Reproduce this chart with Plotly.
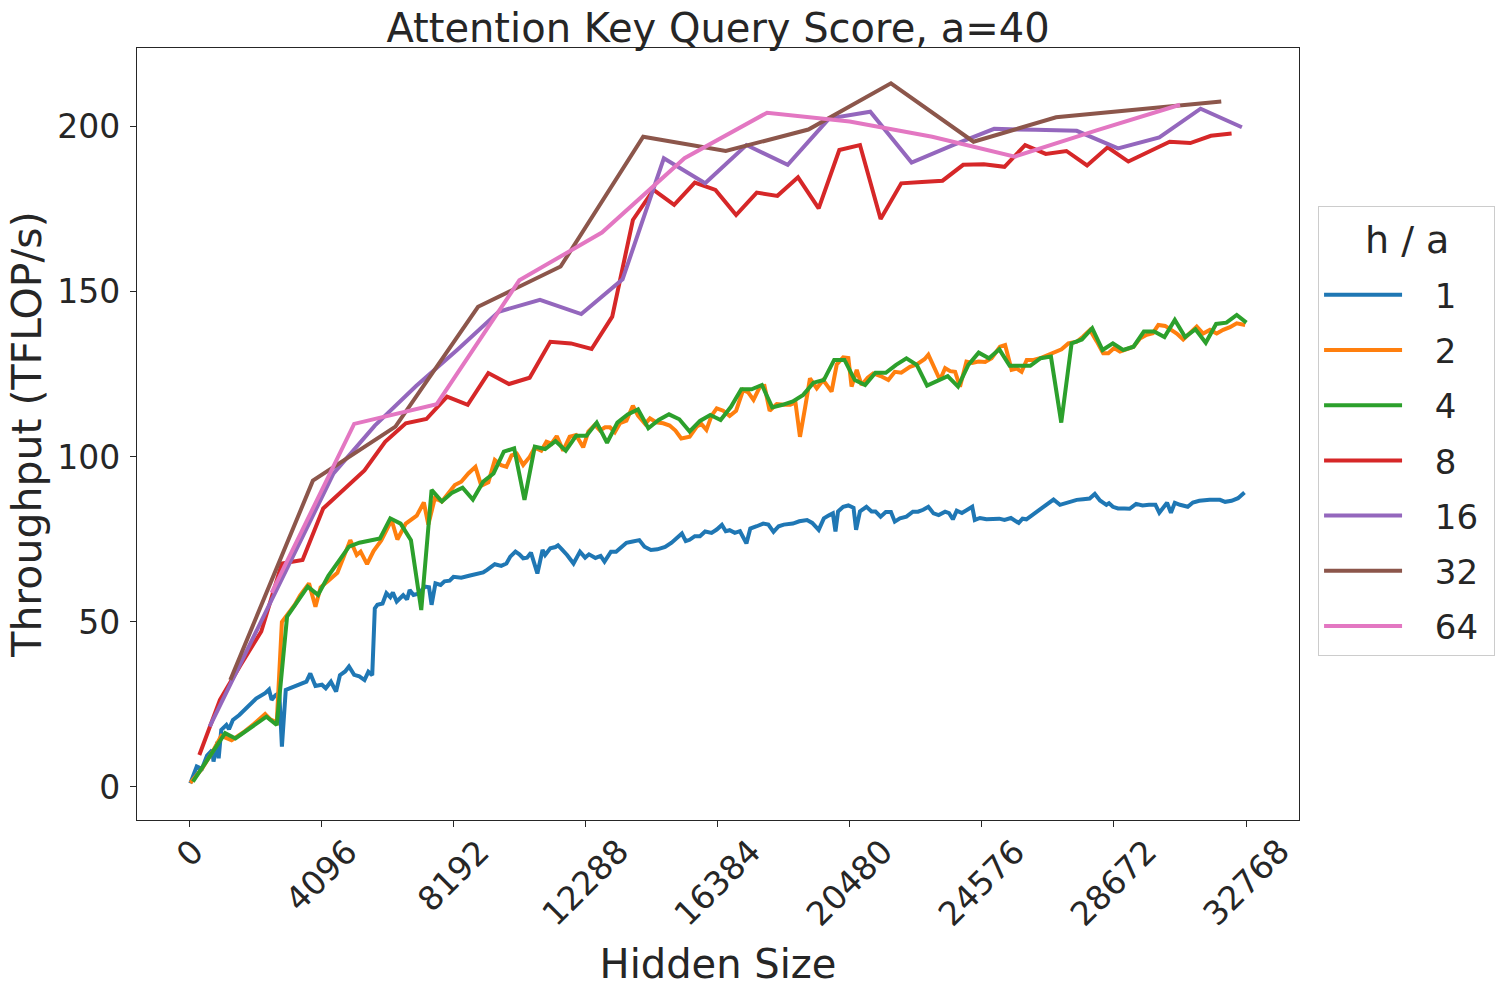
import plotly.graph_objects as go

# ---------------- data ----------------
series_names = ["1", "2", "4", "8", "16", "32", "64"]
series_colors = ["#1f77b4", "#ff7f0e", "#2ca02c", "#d62728", "#9467bd", "#8c564b", "#e377c2"]

hidden_ha1 = [40, 240, 400, 560, 720, 760, 880, 920, 1000, 1160, 1240, 1360, 1560, 1840, 2080, 2360, 2480, 2560, 2680, 2800,
              2880, 3000, 3160, 3320, 3480, 3640, 3760, 3920, 4120, 4240, 4400, 4560, 4680, 4840, 4960, 5120, 5280, 5440, 5560, 5680,
              5760, 5840, 6000, 6120, 6240, 6320, 6440, 6640, 6760, 6840, 6960, 7080, 7200, 7320, 7440, 7520, 7640, 7800, 7920, 8080,
              8200, 8320, 8440, 8680, 8960, 9120, 9240, 9400, 9480, 9680, 9840, 9960, 10120, 10240, 10360, 10480, 10600, 10800, 10960, 11040,
              11200, 11360, 11440, 11560, 11720, 11920, 12120, 12280, 12400, 12600, 12760, 12880, 13080, 13240, 13400, 13560, 13720, 13960, 14120, 14320,
              14520, 14760, 14960, 15120, 15280, 15400, 15520, 15680, 15840, 16000, 16200, 16360, 16520, 16640, 16760, 16920, 17080, 17280, 17400, 17600,
              17800, 17960, 18120, 18280, 18440, 18720, 18920, 19160, 19320, 19520, 19680, 19840, 19960, 20040, 20120, 20280, 20440, 20600, 20680, 20800,
              21000, 21160, 21280, 21440, 21600, 21760, 21880, 22040, 22240, 22440, 22600, 22760, 22920, 23080, 23240, 23440, 23560, 23680, 23800, 23960,
              24120, 24280, 24360, 24520, 24720, 24920, 25120, 25280, 25480, 25720, 25840, 25960, 26160, 26360, 26600, 26800, 27000, 27240, 27520, 27720,
              27920, 28080, 28240, 28440, 28520, 28640, 28800, 29000, 29160, 29360, 29560, 29760, 29960, 30080, 30320, 30440, 30560, 30720, 30960, 31120,
              31320, 31640, 31960, 32120, 32320, 32520, 32720]
tflops_ha1 = [1.1, 6.2, 5.5, 9.5, 11.2, 7.7, 13.7, 8.7, 17.3, 18.8, 17.5, 20.3, 21.8, 24.3, 26.8, 28.4, 29.5, 26.4, 27.8, 28.5,
              12.2, 29.4, 30.0, 30.6, 31.2, 31.9, 34.4, 30.6, 31.0, 29.9, 31.9, 28.9, 33.9, 35.0, 36.5, 34.0, 33.5, 32.4, 34.9, 33.9,
              54.1, 55.2, 55.6, 58.7, 57.5, 58.9, 56.2, 58.1, 56.8, 59.7, 58.2, 58.5, 59.5, 60.7, 60.5, 55.2, 61.7, 61.2, 62.3, 62.5,
              63.7, 63.5, 63.4, 64.0, 64.7, 65.0, 65.8, 66.8, 67.5, 67.0, 67.7, 69.8, 71.3, 70.5, 69.3, 69.5, 71.0, 64.7, 71.8, 70.3,
              72.3, 72.7, 73.2, 72.0, 70.3, 67.7, 71.3, 69.5, 70.5, 69.4, 70.0, 68.3, 71.3, 71.3, 72.8, 74.0, 74.3, 74.8, 72.8, 71.8,
              72.0, 72.7, 74.0, 75.3, 76.8, 74.5, 74.9, 76.0, 76.0, 77.4, 77.0, 78.0, 79.4, 77.5, 77.8, 77.0, 77.5, 73.8, 78.3, 79.0,
              79.8, 79.5, 77.3, 79.0, 79.5, 79.8, 80.5, 80.9, 80.0, 77.9, 81.4, 82.3, 82.9, 77.4, 83.5, 84.9, 85.3, 84.6, 77.9, 83.5,
              84.9, 83.5, 83.5, 81.9, 83.3, 83.3, 80.4, 81.4, 81.9, 83.4, 83.4, 84.0, 84.9, 82.9, 82.4, 83.4, 83.0, 81.1, 83.7, 83.0,
              84.0, 84.9, 80.9, 81.5, 81.1, 81.3, 81.3, 80.9, 81.5, 80.0, 81.3, 81.1, 82.5, 83.9, 85.9, 87.1, 85.5, 86.3, 87.0, 87.2,
              87.4, 88.8, 86.8, 85.5, 86.0, 84.9, 84.4, 84.4, 84.3, 85.8, 85.3, 85.5, 85.5, 83.1, 86.1, 83.1, 86.1, 85.5, 84.9, 86.2,
              86.7, 87.0, 87.0, 86.4, 86.7, 87.5, 89.2]

hidden_ha2 = [40, 400, 720, 1000, 1320, 1680, 2000, 2360, 2520, 2720, 2880, 3040, 3280, 3440, 3720, 3920, 4080, 4320, 4600, 4800,
              5000, 5200, 5320, 5520, 5720, 5960, 6280, 6460, 6720, 7060, 7280, 7420, 7620, 7840, 8040, 8240, 8440, 8660, 8880, 9060,
              9280, 9480, 9680, 9840, 10000, 10160, 10360, 10560, 10720, 10920, 11080, 11240, 11400, 11600, 11800, 12000, 12220, 12380, 12580, 12740,
              12900, 13050, 13200, 13360, 13560, 13760, 13920, 14140, 14290, 14480, 14700, 14900, 15080, 15260, 15520, 15740, 15880, 16040, 16200, 16360,
              16560, 16760, 16960, 17180, 17340, 17500, 17700, 17840, 18000, 18220, 18440, 18640, 18800, 18940, 19100, 19250, 19460, 19660, 19920, 20080,
              20280, 20440, 20540, 20700, 20850, 21040, 21210, 21440, 21680, 21880, 22080, 22350, 22560, 22800, 22920, 23120, 23280, 23440, 23600, 23750,
              23900, 24100, 24280, 24470, 24680, 24880, 25140, 25300, 25500, 25660, 25810, 25970, 26180, 26380, 26600, 26840, 27050, 27260, 27520, 27720,
              27930, 28140, 28340, 28500, 28680, 28860, 29060, 29280, 29480, 29690, 29880, 30050, 30260, 30440, 30620, 30820, 31030, 31240, 31440, 31650,
              31860, 32060, 32270, 32480, 32740]
tflops_ha2 = [1.2, 5.5, 10.5, 15.5, 14.2, 16.5, 19.0, 22.1, 20.5, 19.5, 50.0, 52.0, 55.2, 58.0, 61.7, 54.6, 60.5, 62.5, 64.9, 69.8,
              74.8, 70.3, 71.3, 67.5, 71.5, 74.7, 80.9, 75.0, 79.8, 82.2, 86.2, 79.5, 87.5, 86.5, 88.9, 91.5, 92.5, 95.0, 97.0, 91.3,
              92.3, 99.1, 97.5, 97.0, 100.5, 101.0, 97.6, 100.0, 102.8, 101.9, 104.6, 104.0, 106.3, 101.9, 106.1, 106.6, 102.9, 107.7, 109.7, 108.0,
              109.0, 109.0, 107.5, 110.2, 111.0, 115.5, 112.5, 110.0, 111.7, 110.5, 110.2, 109.5, 108.0, 105.6, 106.1, 109.2, 110.0, 108.2, 112.5, 114.7,
              114.0, 112.4, 114.0, 120.3, 119.5, 117.3, 121.3, 121.5, 114.0, 116.0, 115.8, 115.8, 116.5, 106.1, 115.0, 123.8, 120.8, 123.3, 119.8, 128.0,
              130.2, 130.0, 121.3, 126.4, 121.8, 124.0, 125.3, 124.5, 123.3, 125.8, 125.5, 127.3, 128.0, 129.6, 131.0, 126.4, 123.3, 126.9, 126.0, 125.8,
              121.3, 128.9, 128.5, 128.9, 128.8, 129.9, 133.4, 133.9, 126.4, 126.8, 125.8, 129.4, 129.4, 129.9, 130.8, 131.9, 132.6, 134.4, 134.9, 136.5,
              138.5, 135.0, 131.4, 131.4, 133.0, 131.9, 132.5, 133.4, 135.9, 137.0, 137.5, 140.0, 139.7, 138.5, 137.4, 135.6, 137.5, 139.5, 137.4, 138.5,
              137.4, 138.5, 139.3, 140.5, 140.0]

hidden_ha4 = [120, 1120, 1440, 2400, 2720, 3040, 3680, 4000, 4320, 4640, 4960, 5280, 5600, 5920, 6240, 6560, 6880, 7200, 7520, 7840,
              8160, 8480, 8800, 9120, 9440, 9760, 10080, 10400, 10720, 11040, 11360, 11680, 12000, 12320, 12640, 12960, 13280, 13600, 13920, 14240,
              14560, 14880, 15200, 15520, 15840, 16160, 16480, 16800, 17120, 17440, 17760, 18080, 18400, 18720, 19040, 19360, 19680, 20000, 20320, 20640,
              20960, 21280, 21600, 21920, 22240, 22560, 22880, 23200, 23520, 23840, 24160, 24480, 24800, 25120, 25440, 25760, 26080, 26400, 26720, 27040,
              27360, 27680, 28000, 28320, 28640, 28960, 29280, 29600, 29920, 30240, 30560, 30880, 31200, 31520, 31840, 32160, 32480, 32780]
tflops_ha4 = [1.6, 16.3, 14.7, 21.3, 18.8, 51.6, 60.7, 58.2, 64.0, 68.5, 72.8, 74.0, 74.8, 75.3, 81.4, 79.8, 74.8, 53.6, 90.0, 86.5,
              89.2, 90.7, 87.1, 92.5, 95.0, 101.6, 102.6, 87.0, 103.1, 102.4, 104.8, 101.9, 106.4, 106.4, 110.4, 104.3, 110.4, 112.9, 114.4, 108.7,
              111.2, 112.9, 111.4, 107.7, 110.9, 112.7, 111.2, 115.2, 120.5, 120.5, 121.8, 115.0, 115.8, 116.8, 118.8, 122.5, 123.3, 129.4, 129.4, 123.3,
              121.8, 125.5, 125.5, 127.9, 129.9, 127.9, 121.6, 123.0, 124.5, 121.3, 127.9, 131.6, 129.9, 132.6, 127.6, 127.6, 127.6, 129.9, 130.4, 110.4,
              134.4, 135.6, 139.0, 132.4, 134.4, 132.4, 133.4, 138.0, 138.0, 136.3, 141.5, 136.3, 138.7, 134.6, 140.3, 140.7, 143.0, 140.7]

hidden_ha8 = [320, 960, 1600, 2240, 2880, 3520, 4160, 4800, 5440, 6080, 6720, 7360, 8000, 8640, 9280, 9920, 10560, 11200, 11840, 12480,
              13120, 13760, 14400, 15040, 15680, 16320, 16960, 17600, 18240, 18880, 19520, 20160, 20800, 21440, 22080, 22720, 23360, 24000, 24640, 25280,
              25920, 26560, 27200, 27840, 28480, 29120, 29760, 30400, 31040, 31680, 32320]
tflops_ha8 = [9.7, 26.4, 37.0, 47.1, 67.7, 68.8, 84.4, 90.0, 95.9, 104.6, 110.2, 111.5, 118.3, 115.8, 125.4, 122.1, 124.0, 134.9, 134.4, 132.7,
              142.5, 171.8, 180.9, 176.4, 183.1, 180.9, 173.3, 180.1, 179.1, 184.7, 175.3, 193.0, 194.5, 172.1, 182.9, 183.3, 183.7, 188.5, 188.7, 187.9,
              194.5, 191.8, 192.7, 188.3, 193.8, 189.5, 192.5, 195.5, 195.1, 197.3, 198.0]

hidden_ha16 = [640, 1920, 3200, 4480, 5760, 7040, 8320, 9600, 10880, 12160, 13440, 14720, 16000, 17280, 18560, 19840, 21120, 22400, 23680, 24960,
               26240, 27520, 28800, 30080, 31360, 32640]
tflops_ha16 = [18.3, 44.0, 69.5, 95.0, 109.5, 121.5, 132.5, 144.0, 147.6, 143.3, 153.8, 190.5, 182.9, 194.5, 188.5, 202.5, 204.6, 189.2, 194.5, 199.4,
               199.1, 198.8, 193.5, 196.8, 205.5, 199.9]

hidden_ha32 = [1280, 3840, 6400, 8960, 11520, 14080, 16640, 19200, 21760, 24320, 26880, 29440, 32000]
tflops_ha32 = [32.4, 92.8, 109.2, 145.5, 157.7, 197.0, 192.7, 199.2, 213.2, 195.5, 202.9, 205.3, 207.7]

hidden_ha64 = [2560, 5120, 7680, 10240, 12800, 15360, 17920, 20480, 23040, 25600, 28160, 30720]
tflops_ha64 = [58.8, 110.0, 116.0, 153.5, 168.0, 190.5, 204.3, 201.6, 197.0, 191.0, 199.0, 206.7]

x_tick_values = [0, 4096, 8192, 12288, 16384, 20480, 24576, 28672, 32768]
x_tick_labels = ["0", "4096", "8192", "12288", "16384", "20480", "24576", "28672", "32768"]
y_tick_values = [0, 50, 100, 150, 200]
legend_title = "h / a"

all_x = [hidden_ha1, hidden_ha2, hidden_ha4, hidden_ha8, hidden_ha16, hidden_ha32, hidden_ha64]
all_y = [tflops_ha1, tflops_ha2, tflops_ha4, tflops_ha8, tflops_ha16, tflops_ha32, tflops_ha64]

# ---------------- figure ----------------
TXT = "#262626"
FONT = "DejaVu Sans"
NB = "\u00a0"
EN = "\u2002"

fig = go.Figure()
for name, color, xs, ys in zip(series_names, series_colors, all_x, all_y):
    fig.add_trace(go.Scatter(
        x=xs, y=ys, mode="lines", name=EN + NB + name + NB, legendgroup=name,
        line=dict(color=color, width=4),
    ))

axis_common = dict(
    showgrid=False, zeroline=False, showline=True, mirror=True,
    linecolor=TXT, linewidth=1.3,
    ticks="outside", ticklen=6, tickwidth=1.3, tickcolor=TXT,
    tickfont=dict(family=FONT, size=33, color=TXT),
)

FIG_W, FIG_H = 1506, 995
PLOT_BOTTOM_PX = 820
PLOT_H = 772

# rotated x tick labels, centred under each tick (matplotlib style)
tick_label_annotations = [
    dict(text=lab, x=v, xref="x", yref="paper",
         y=-(829 - PLOT_BOTTOM_PX) / PLOT_H, xanchor="center", yanchor="top",
         textangle=-45, showarrow=False, font=dict(family=FONT, size=33, color=TXT))
    for v, lab in zip(x_tick_values, x_tick_labels)
]

fig.update_layout(
    width=FIG_W, height=FIG_H,
    margin=dict(l=137, r=207, t=48, b=175, autoexpand=False),
    paper_bgcolor="white", plot_bgcolor="white",
    font=dict(family=FONT, color=TXT),
    title=dict(
        text="Attention Key Query Score, a=40",
        font=dict(family=FONT, size=40, color=TXT),
        x=0.5, xref="paper", xanchor="center",
        y=1 - 28 / FIG_H, yref="container", yanchor="middle",
    ),
    xaxis=dict(
        **axis_common,
        range=[-1612, 34410],
        tickmode="array", tickvals=x_tick_values, showticklabels=False,
        title=dict(text="Hidden Size", font=dict(family=FONT, size=40, color=TXT), standoff=123),
    ),
    yaxis=dict(
        **axis_common,
        range=[-10, 223.9],
        tickmode="array", tickvals=y_tick_values, ticklabelstandoff=3,
        title=dict(text="Throughput (TFLOP/s)", font=dict(family=FONT, size=41, color=TXT), standoff=2),
    ),
    legend=dict(
        x=1.0164, xanchor="left", y=0.7953, yanchor="top",
        bordercolor="#cccccc", borderwidth=1, bgcolor="white",
        font=dict(family=FONT, size=34, color=TXT),
        title=dict(text=NB, side="top", font=dict(family=FONT, size=45.5, color=TXT)),
        itemwidth=78, tracegroupgap=8,
    ),
    annotations=tick_label_annotations + [dict(
        text=legend_title, xref="paper", yref="paper",
        x=1.0929, y=(PLOT_BOTTOM_PX - 240) / PLOT_H, xanchor="center", yanchor="middle",
        showarrow=False, font=dict(family=FONT, size=38, color=TXT),
    )],
)

fig.write_html("out.html", config={"displayModeBar": False},
               post_script="document.body.style.margin='0px';")
